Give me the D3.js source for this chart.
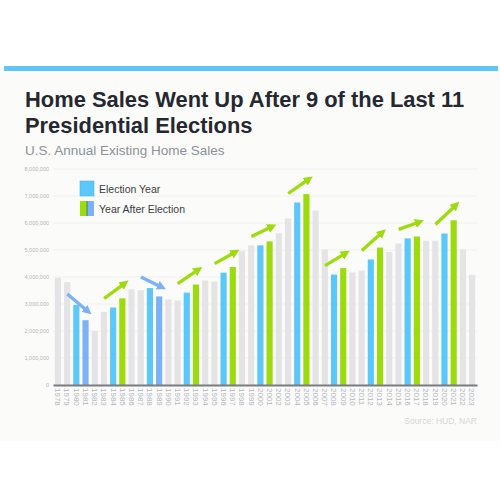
<!DOCTYPE html>
<html>
<head>
<meta charset="utf-8">
<script src="https://cdn.jsdelivr.net/npm/d3@7"></script>
<style>
  body { margin: 0; background: #fff; font-family: "Liberation Sans", Arial, sans-serif; }
</style>
</head>
<body>
<div id="chart"></div>
<script>
// years and annual existing home sales (millions)
var years = d3.range(1978, 2024).map(String);
var sales = [3.97, 3.81, 2.96, 2.40, 2.00, 2.71, 2.87, 3.21, 3.55, 3.51,
             3.59, 3.28, 3.17, 3.13, 3.42, 3.72, 3.87, 3.83, 4.16, 4.37,
             4.97, 5.17, 5.17, 5.32, 5.62, 6.17, 6.76, 7.07, 6.46, 5.02,
             4.09, 4.33, 4.17, 4.24, 4.65, 5.09, 4.93, 5.24, 5.43, 5.50,
             5.34, 5.34, 5.61, 6.10, 5.02, 4.08];
var electionYears = ["1980", "1984", "1988", "1992", "1996", "2000", "2004", "2008", "2012", "2016", "2020"];
var yTicks = [0, 1, 2, 3, 4, 5, 6, 7, 8];

var svgWidth = 500;
var svgHeight = 500;

var chartMargin = { top: 169, right: 23, bottom: 115, left: 53 };
var chartWidth = svgWidth - chartMargin.left - chartMargin.right;
var chartHeight = svgHeight - chartMargin.top - chartMargin.bottom;

var colGrey = "#e4e4e6";
var colElection = "#5bc8fb";
var colUp = "#9ddc0c";
var colDown = "#7ab1f7";

var svg = d3.select("#chart")
  .append("svg")
  .attr("width", svgWidth)
  .attr("height", svgHeight);

// panel background + top stripe
svg.append("rect")
  .attr("x", 0).attr("y", 72)
  .attr("width", svgWidth).attr("height", 369)
  .attr("fill", "#fbfbf9");

svg.append("rect")
  .attr("x", 4).attr("y", 66)
  .attr("width", 494).attr("height", 5)
  .attr("fill", "#5fc6f9");

// titles
svg.append("text")
  .attr("x", 25).attr("y", 106.5)
  .attr("font-size", "21.9px")
  .attr("font-weight", "bold")
  .attr("fill", "#252830")
  .text("Home Sales Went Up After 9 of the Last 11");

svg.append("text")
  .attr("x", 25).attr("y", 133.3)
  .attr("font-size", "21.9px")
  .attr("font-weight", "bold")
  .attr("fill", "#252830")
  .text("Presidential Elections");

svg.append("text")
  .attr("x", 25).attr("y", 155)
  .attr("font-size", "13.5px")
  .attr("fill", "#8b929b")
  .text("U.S. Annual Existing Home Sales");

var chartGroup = svg.append("g")
  .attr("transform", `translate(${chartMargin.left}, ${chartMargin.top})`);

var xBandScale = d3.scaleBand()
  .domain(years)
  .range([0, chartWidth])
  .paddingInner(0.33)
  .paddingOuter(0.2);

var yLinearScale = d3.scaleLinear()
  .domain([0, 8])
  .range([chartHeight, 0]);

// gridlines
chartGroup.selectAll(".grid")
  .data(yTicks)
  .enter()
  .append("line")
  .attr("x1", 0)
  .attr("x2", chartWidth)
  .attr("y1", d => yLinearScale(d))
  .attr("y2", d => yLinearScale(d))
  .attr("stroke", "#f0f0f0")
  .attr("stroke-width", 1);

// y axis labels
var leftAxis = d3.axisLeft(yLinearScale)
  .tickValues(yTicks)
  .tickSize(0)
  .tickPadding(4)
  .tickFormat(d => d3.format(",")(d * 1000000));

var yAxisG = chartGroup.append("g").call(leftAxis);
yAxisG.select(".domain").remove();
yAxisG.selectAll("text")
  .attr("font-family", "Liberation Sans, Arial, sans-serif")
  .attr("font-size", "5.5px")
  .attr("fill", "#b5b5b8");

function barColor(d, i) {
  if (electionYears.indexOf(d) >= 0) return colElection;
  var prev = String(+d - 1);
  if (electionYears.indexOf(prev) >= 0) {
    return sales[i] >= sales[i - 1] ? colUp : colDown;
  }
  return colGrey;
}

chartGroup.selectAll(".bar")
  .data(years)
  .enter()
  .append("rect")
  .attr("class", "bar")
  .attr("x", d => xBandScale(d))
  .attr("y", (d, i) => yLinearScale(sales[i]))
  .attr("width", xBandScale.bandwidth())
  .attr("height", (d, i) => chartHeight - yLinearScale(sales[i]))
  .attr("fill", barColor);

// x axis
var bottomAxis = d3.axisBottom(xBandScale).tickSize(0).tickPadding(0);
var xAxisG = chartGroup.append("g")
  .attr("transform", `translate(0, ${chartHeight})`)
  .call(bottomAxis);
xAxisG.select(".domain")
  .attr("stroke", "#7b7c82")
  .attr("stroke-width", 2);
xAxisG.selectAll("text")
  .attr("font-family", "Liberation Sans, Arial, sans-serif")
  .attr("font-size", "8px")
  .attr("fill", "#b4b6c2")
  .attr("transform", "rotate(90)")
  .attr("text-anchor", "start")
  .attr("x", 3)
  .attr("y", 0)
  .attr("dy", "0.33em");

// arrows between election year and year after
var defs = svg.append("defs");
[["headUp", colUp], ["headDown", colDown]].forEach(function(m) {
  defs.append("marker")
    .attr("id", m[0])
    .attr("viewBox", "0 0 10 10")
    .attr("refX", 3)
    .attr("refY", 5)
    .attr("markerWidth", 2.8)
    .attr("markerHeight", 3)
    .attr("orient", "auto")
    .attr("markerUnits", "strokeWidth")
    .append("path")
    .attr("d", "M0,0 L10,5 L0,10 Z")
    .attr("fill", m[1]);
});

var half = xBandScale.bandwidth() / 2;
chartGroup.selectAll(".arrow")
  .data(electionYears)
  .enter()
  .append("line")
  .attr("class", "arrow")
  .each(function(d) {
    var i = years.indexOf(d);
    var up = sales[i + 1] >= sales[i];
    var x1 = xBandScale(d) + half - 9;
    var x2 = xBandScale(years[i + 1]) + half + 1;
    var y1 = yLinearScale(sales[i]) - (up ? 9 : 11);
    var y2 = yLinearScale(sales[i + 1]) - (up ? 14 : 10);
    d3.select(this)
      .attr("x1", x1).attr("y1", y1)
      .attr("x2", x2).attr("y2", y2)
      .attr("stroke", up ? colUp : colDown)
      .attr("stroke-width", 3.3)
      .attr("marker-end", up ? "url(#headUp)" : "url(#headDown)");
  });

// legend
var legend = svg.append("g").attr("transform", "translate(80, 181)");
legend.append("rect")
  .attr("x", 0).attr("y", 0).attr("width", 14).attr("height", 15)
  .attr("fill", colElection).attr("stroke", "#4fb4e6").attr("stroke-width", 0.6);
legend.append("text")
  .attr("x", 19).attr("y", 11.5)
  .attr("font-size", "10.5px").attr("fill", "#3a3d44")
  .text("Election Year");

legend.append("rect")
  .attr("x", 0).attr("y", 20).attr("width", 7).attr("height", 15)
  .attr("fill", colUp);
legend.append("rect")
  .attr("x", 7).attr("y", 20).attr("width", 7).attr("height", 15)
  .attr("fill", colDown);
legend.append("line")
  .attr("x1", 7).attr("x2", 7).attr("y1", 20).attr("y2", 35)
  .attr("stroke", "#3d6b55").attr("stroke-width", 0.8);
legend.append("text")
  .attr("x", 19).attr("y", 31.5)
  .attr("font-size", "10.5px").attr("fill", "#3a3d44")
  .text("Year After Election");

// source
svg.append("text")
  .attr("x", 477).attr("y", 424)
  .attr("text-anchor", "end")
  .attr("font-size", "8.5px")
  .attr("fill", "#d6d6d6")
  .text("Source: HUD, NAR");
</script>
</body>
</html>
